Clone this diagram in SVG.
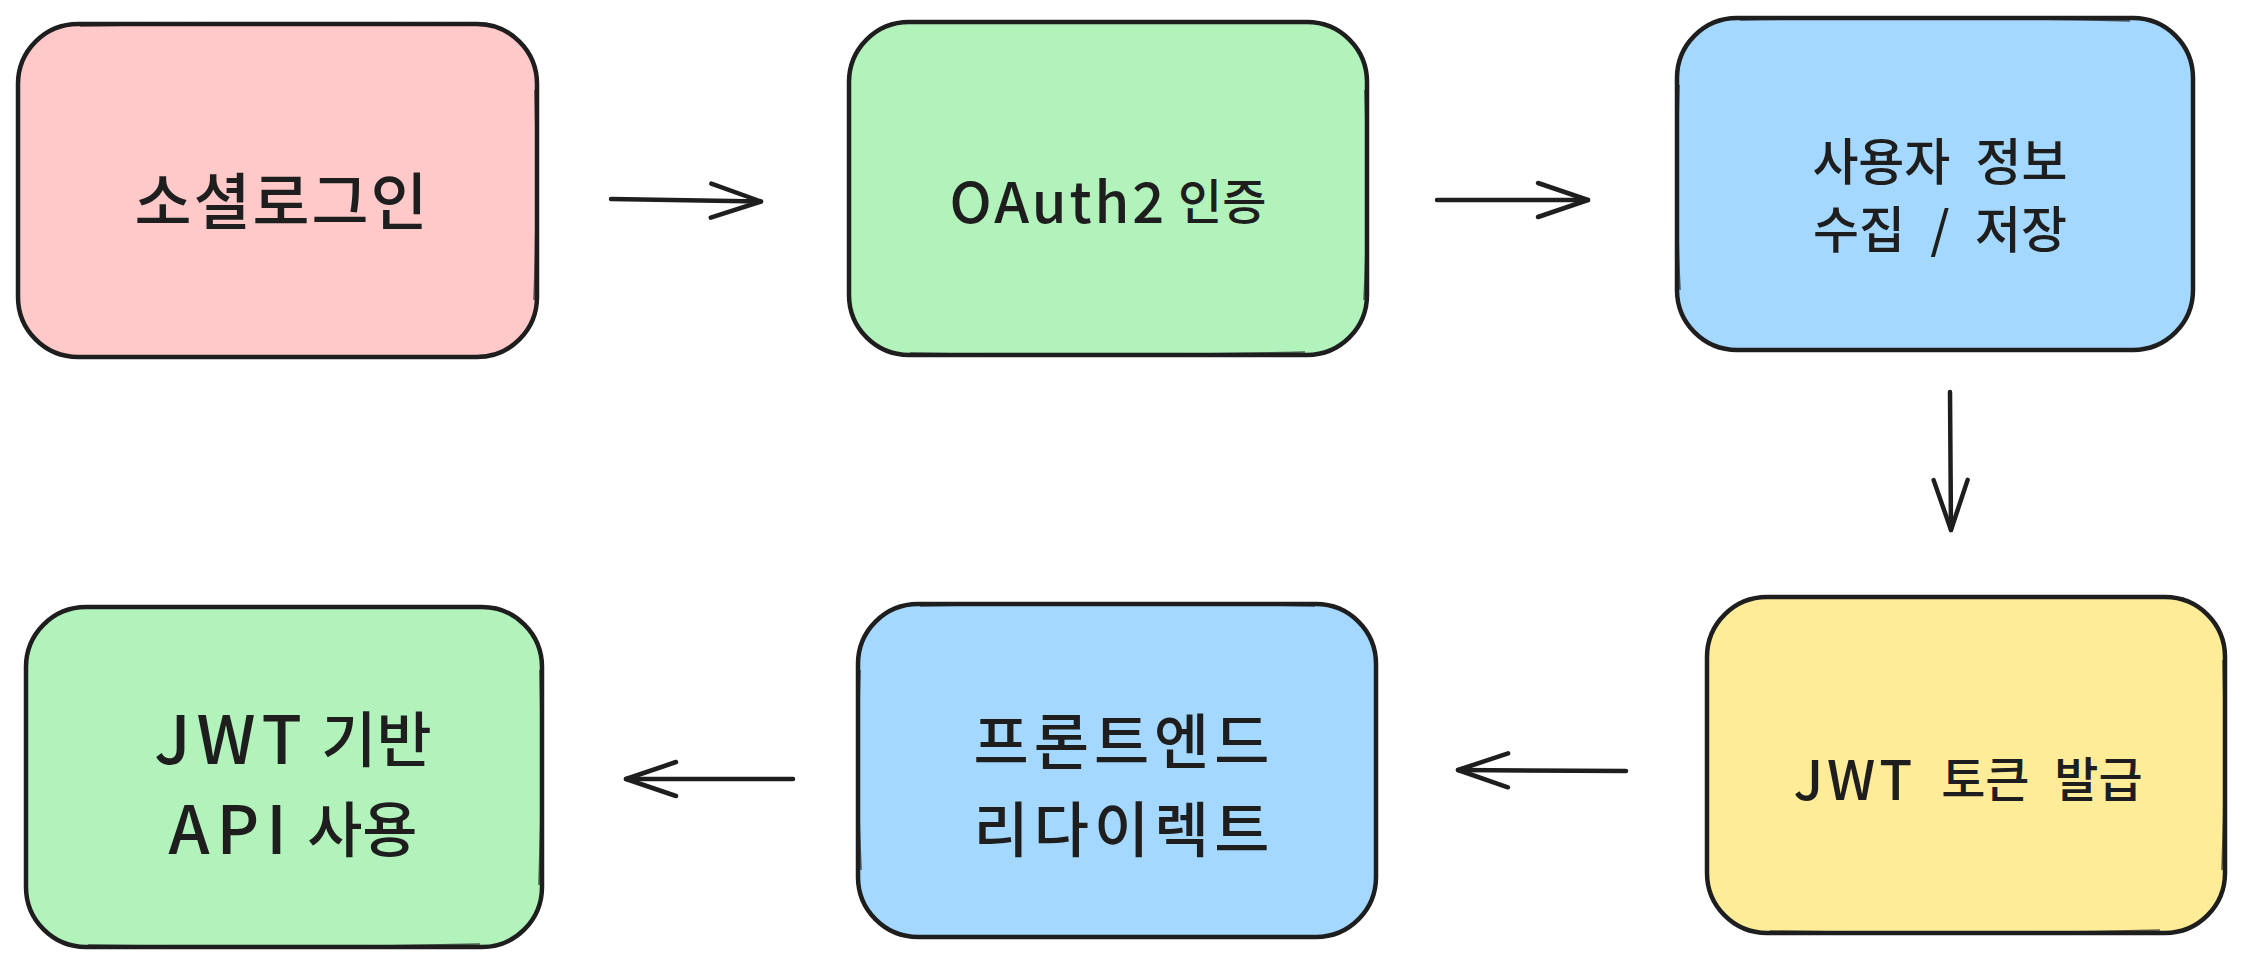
<svg xmlns="http://www.w3.org/2000/svg" width="2244" height="966" viewBox="0 0 2244 966">
<style>
.box{stroke:#1e1e1e;stroke-width:4.5;stroke-linejoin:round}
.sk{fill:none;stroke:#1e1e1e;stroke-width:1.6;opacity:0.7}
.lbl{font-family:"Noto Sans CJK KR","Noto Sans",sans-serif;font-weight:500;fill:#1e1e1e;text-anchor:middle;dominant-baseline:central}
.conn{fill:none;stroke:#1e1e1e;stroke-width:4.5;stroke-linecap:round}
</style>
<defs>
<marker id="ah" markerUnits="userSpaceOnUse" markerWidth="60" markerHeight="44" viewBox="-56 -22 60 44" refX="0" refY="0" orient="auto" overflow="visible">
<path d="M-50,-17 L0,0 L-50,17" fill="none" stroke="#1e1e1e" stroke-width="4.5" stroke-linecap="round" stroke-linejoin="round"/>
</marker>
</defs>
<rect width="2244" height="966" fill="#ffffff"/>

<g id="node-social-login">
<rect class="box" x="18" y="24" width="519" height="333" rx="60" fill="#ffc9c9"/>
<path class="sk" d="M80,26 Q280,21 478,25 M535,90 Q538,190 534,300"/>
<text class="lbl" x="282" y="198" font-size="62" letter-spacing="2">소셜로그인</text>
</g>

<g id="node-oauth2">
<rect class="box" x="849" y="22" width="518" height="333" rx="60" fill="#b2f2bb"/>
<path class="sk" d="M1365,90 Q1369,200 1364,300 M910,353 Q1110,357 1305,352"/>
<text class="lbl" x="1108" y="198" font-size="48"><tspan font-size="56" letter-spacing="3">OAuth2</tspan> 인증</text>
</g>

<g id="node-user-info">
<rect class="box" x="1677" y="18" width="516" height="332" rx="60" fill="#a5d8ff"/>
<path class="sk" d="M1679,85 Q1675,190 1680,290 M1740,20 Q1935,16 2130,21"/>
<text class="lbl" x="1940" y="158" font-size="50" word-spacing="14">사용자 정보</text>
<text class="lbl" x="1940" y="226" font-size="50" word-spacing="14">수집 / 저장</text>
</g>

<g id="node-jwt-issue">
<rect class="box" x="1707" y="597" width="518" height="336" rx="60" fill="#ffec99"/>
<path class="sk" d="M2223,660 Q2226,770 2222,870 M1770,931 Q1965,935 2160,930"/>
<text class="lbl" x="1968" y="776" font-size="48" word-spacing="14"><tspan font-size="54" letter-spacing="4">JWT</tspan> 토큰 발급</text>
</g>

<g id="node-frontend-redirect">
<rect class="box" x="858" y="604" width="518" height="333" rx="60" fill="#a5d8ff"/>
<path class="sk" d="M920,606 Q1115,601 1315,606 M860,670 Q856,770 861,870"/>
<text class="lbl" x="1124" y="737" font-size="60" letter-spacing="5">프론트엔드</text>
<text class="lbl" x="1124" y="825" font-size="60" letter-spacing="5">리다이렉트</text>
</g>

<g id="node-jwt-api">
<rect class="box" x="26" y="607" width="516" height="340" rx="60" fill="#b2f2bb"/>
<path class="sk" d="M540,670 Q543,780 539,885 M88,945 Q285,949 480,944"/>
<text class="lbl" x="293" y="735" font-size="60"><tspan font-size="66" letter-spacing="6">JWT</tspan> 기반</text>
<text class="lbl" x="293" y="825" font-size="60"><tspan font-size="66" letter-spacing="7">API</tspan> 사용</text>
</g>

<g id="connectors">
<path class="conn" d="M611,199 L761,201.5" marker-end="url(#ah)"/>
<path class="conn" d="M1437,200 L1588,200" marker-end="url(#ah)"/>
<path class="conn" d="M1950,392 L1951,530" marker-end="url(#ah)"/>
<path class="conn" d="M1626,771 L1458,770" marker-end="url(#ah)"/>
<path class="conn" d="M793,779 L626,779" marker-end="url(#ah)"/>
</g>
</svg>
